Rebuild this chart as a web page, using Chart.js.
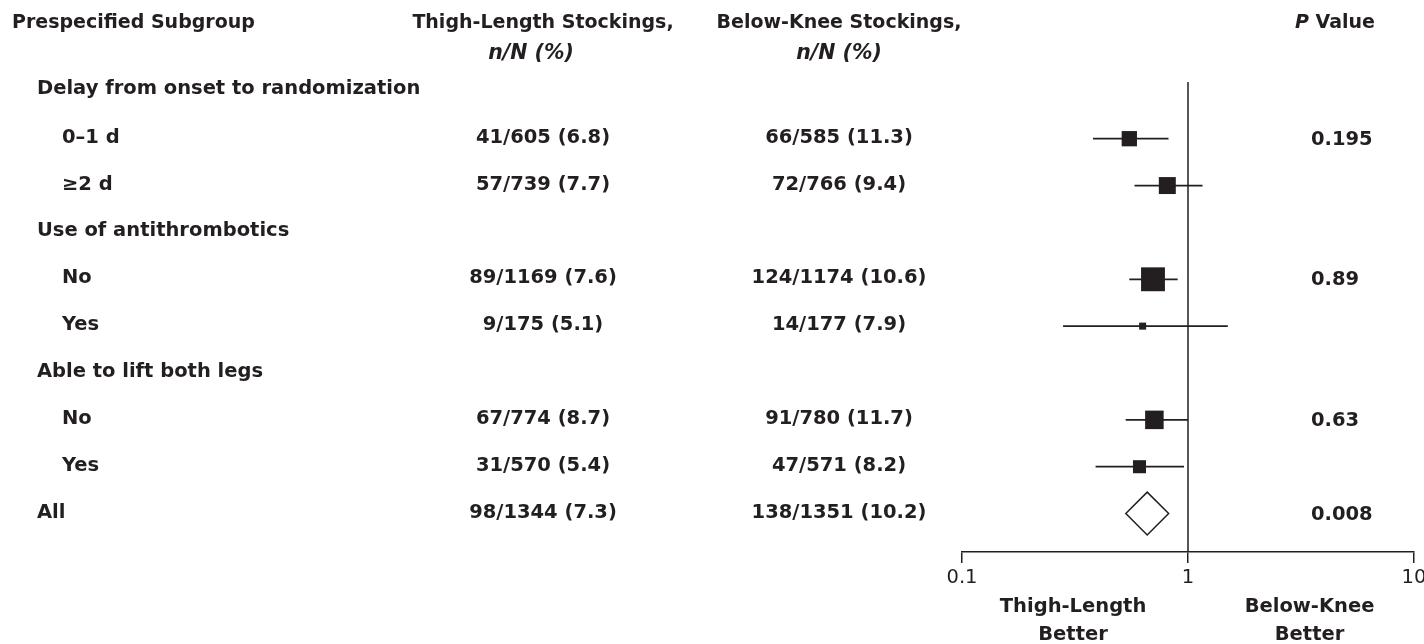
<!DOCTYPE html>
<html>
<head>
<meta charset="utf-8">
<script src="https://cdn.jsdelivr.net/npm/chart.js@4"></script>
<style>
  html, body { margin: 0; padding: 0; background: #ffffff; }
  canvas { display: block; }
</style>
</head>
<body>
<canvas id="forest" width="1424" height="644"></canvas>
<script>
// Subgroup rows, top to bottom
const subgroupLabels = ['Delay from onset to randomization', '0–1 d', '≥2 d',
  'Use of antithrombotics', 'No', 'Yes',
  'Able to lift both legs', 'No', 'Yes', 'All'];
const rowLevels = [0, 1, 1, 0, 1, 1, 0, 1, 1, 0];

// Events / patients per arm
const thighEvents   = [null, 41, 57, null, 89, 9, null, 67, 31, 98];
const thighTotals   = [null, 605, 739, null, 1169, 175, null, 774, 570, 1344];
const thighPercents = [null, '6.8', '7.7', null, '7.6', '5.1', null, '8.7', '5.4', '7.3'];
const kneeEvents    = [null, 66, 72, null, 124, 14, null, 91, 47, 138];
const kneeTotals    = [null, 585, 766, null, 1174, 177, null, 780, 571, 1351];
const kneePercents  = [null, '11.3', '9.4', null, '10.6', '7.9', null, '11.7', '8.2', '10.2'];
const pValues       = [null, '0.195', null, null, '0.89', null, null, '0.63', null, '0.008'];

// Odds ratios with 95% CI
const oddsRatios = [null, 0.55, 0.81, null, 0.70, 0.63, null, 0.71, 0.61, 0.66];
const ciLower    = [null, 0.38, 0.58, null, 0.55, 0.28, null, 0.53, 0.39, 0.53];
const ciUpper    = [null, 0.82, 1.16, null, 0.90, 1.50, null, 1.00, 0.96, 0.82];

// Axis
const axisTicks  = [0.1, 1, 10];
const axisLabels = ['0.1', '1', '10'];
const favourLeft  = ['Thigh-Length', 'Better'];
const favourRight = ['Below-Knee', 'Better'];

const INK = '#231f20';
const FAMILY = '"DejaVu Sans", Verdana, sans-serif';
const BODY = 'bold 19.5px ' + FAMILY;
const HEAD = 'bold 19px ' + FAMILY;
const HEAD_IT = 'italic bold 19px ' + FAMILY;
const UNIT_IT = 'italic bold 20.5px ' + FAMILY;

const hasEstimate = i => oddsRatios[i] !== null;
const isSummary = i => rowLevels[i] === 0 && hasEstimate(i);
const rows = subgroupLabels.map((_, i) => i);

// box area proportional to inverse variance (SE from the CI width)
const standardError = i => Math.log(ciUpper[i] / ciLower[i]) / (2 * 1.96);

const boxData = rows.filter(i => hasEstimate(i) && !isSummary(i))
  .map(i => ({ x: oddsRatios[i], y: i, se: standardError(i) }));
const diamondData = rows.filter(isSummary)
  .map(i => ({ x: oddsRatios[i], y: i, lo: ciLower[i], hi: ciUpper[i] }));
const whiskerData = [];
rows.filter(i => hasEstimate(i) && !isSummary(i)).forEach(i => {
  whiskerData.push({ x: ciLower[i], y: i }, { x: ciUpper[i], y: i }, { x: null, y: null });
});

const Y_MIN = -0.21, Y_MAX = 9.82;

const tablePlugin = {
  id: 'forestTable',
  afterDraw(chart) {
    const { ctx } = chart;
    const ys = chart.scales.y;
    const xs = chart.scales.x;
    ctx.save();
    ctx.fillStyle = INK;
    ctx.textBaseline = 'alphabetic';

    // column headings
    ctx.font = HEAD;
    ctx.textAlign = 'left';
    ctx.fillText('Prespecified Subgroup', 12, 28);
    ctx.textAlign = 'center';
    ctx.fillText('Thigh-Length Stockings,', 543, 28);
    ctx.fillText('Below-Knee Stockings,', 839, 28);
    ctx.font = UNIT_IT;
    ctx.fillText('n/N (%)', 531, 59);
    ctx.fillText('n/N (%)', 839, 59);

    // P Value heading with italic P
    ctx.textAlign = 'left';
    ctx.font = HEAD_IT;
    const wP = ctx.measureText('P ').width;
    ctx.font = HEAD;
    const wV = ctx.measureText('Value').width;
    const startX = 1335 - (wP + wV) / 2;
    ctx.font = HEAD_IT;
    ctx.fillText('P', startX, 28);
    ctx.font = HEAD;
    ctx.fillText('Value', startX + wP, 28);

    // rows
    ctx.font = BODY;
    rows.forEach(i => {
      const y = ys.getPixelForValue(i) + 4;
      ctx.textAlign = 'left';
      ctx.fillText(subgroupLabels[i], rowLevels[i] === 0 ? 37 : 62, i === 0 ? y - 2 : y);
      if (thighEvents[i] !== null) {
        ctx.textAlign = 'center';
        ctx.fillText(`${thighEvents[i]}/${thighTotals[i]} (${thighPercents[i]})`, 543, y);
        ctx.fillText(`${kneeEvents[i]}/${kneeTotals[i]} (${kneePercents[i]})`, 839, y);
      }
      if (pValues[i] !== null) {
        ctx.textAlign = 'left';
        ctx.fillText(pValues[i], 1311, y + 2);
      }
    });

    // favour labels under the axis
    ctx.font = BODY;
    ctx.textAlign = 'center';
    const lx = xs.getPixelForValue(0.31);
    const rx = xs.getPixelForValue(3.45);
    ctx.fillText(favourLeft[0], lx, 612);
    ctx.fillText(favourLeft[1], lx, 640);
    ctx.fillText(favourRight[0], rx, 612);
    ctx.fillText(favourRight[1], rx, 640);
    ctx.restore();
  }
};

new Chart(document.getElementById('forest'), {
  type: 'scatter',
  data: {
    datasets: [
      {
        label: 'Odds ratio',
        data: boxData,
        pointStyle: 'rect',
        pointRadius: c => (3 / c.raw.se) / Math.SQRT2,
        backgroundColor: INK,
        borderWidth: 0
      },
      {
        label: 'Overall',
        data: diamondData,
        pointStyle: 'rectRot',
        pointRadius: c => {
          const s = c.chart.scales.x;
          return (s.getPixelForValue(c.raw.hi) - s.getPixelForValue(c.raw.lo)) / 2;
        },
        backgroundColor: '#ffffff',
        borderColor: INK,
        borderWidth: 1.5
      },
      {
        label: '95% CI',
        data: whiskerData,
        showLine: true,
        spanGaps: false,
        borderColor: INK,
        borderWidth: 1.8,
        pointRadius: 0
      },
      {
        label: 'No effect',
        data: [{ x: 1, y: Y_MIN }, { x: 1, y: Y_MAX }],
        showLine: true,
        borderColor: INK,
        borderWidth: 1.5,
        pointRadius: 0
      }
    ]
  },
  options: {
    responsive: false,
    animation: false,
    events: [],
    layout: { autoPadding: false, padding: { left: 962, right: 10, top: 82, bottom: 0 } },
    plugins: { legend: { display: false }, tooltip: { enabled: false } },
    scales: {
      x: {
        type: 'logarithmic',
        position: 'bottom',
        min: 0.1,
        max: 10,
        afterBuildTicks: s => { s.ticks = axisTicks.map(v => ({ value: v })); },
        afterFit: s => { s.height = 92; s.paddingLeft = 0; s.paddingRight = 0; },
        ticks: {
          autoSkip: false,
          maxRotation: 0,
          padding: 3,
          color: INK,
          font: { family: FAMILY, size: 19.5, weight: 'normal' },
          callback: (v, idx) => axisLabels[idx]
        },
        grid: { drawOnChartArea: false, drawTicks: true, tickLength: 11, color: INK, lineWidth: 1.5 },
        border: { display: true, color: INK, width: 1.5 }
      },
      y: {
        type: 'linear',
        reverse: true,
        min: Y_MIN,
        max: Y_MAX,
        display: false
      }
    }
  },
  plugins: [tablePlugin]
});
</script>
</body>
</html>
